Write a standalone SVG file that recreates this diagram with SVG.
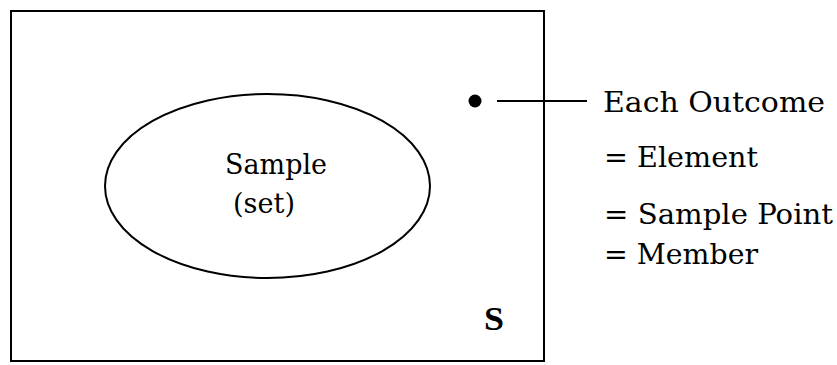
<svg xmlns="http://www.w3.org/2000/svg" width="837" height="365" viewBox="0 0 837 365">
<style>
.t{font-family:"DejaVu Serif","Liberation Serif",serif;font-size:28px;fill:#000}
.b{font-family:"Liberation Serif","DejaVu Serif",serif;font-size:34px;font-weight:bold;fill:#000}
.s{fill:none;stroke:#000;stroke-width:2}
</style>
<rect width="837" height="365" fill="#fff"/>
<g id="space">
<rect class="s" x="11" y="11" width="533" height="350"/>
<text class="b" x="484" y="330" textLength="20" lengthAdjust="spacingAndGlyphs">S</text>
</g>
<g id="sample">
<ellipse class="s" cx="267.5" cy="186" rx="162.5" ry="92" stroke-width="1.6"/>
<text class="t" x="225" y="174" textLength="102" lengthAdjust="spacingAndGlyphs">Sample</text>
<text class="t" x="233" y="213" textLength="62" lengthAdjust="spacingAndGlyphs">(set)</text>
</g>
<g id="outcome">
<circle cx="475" cy="101" r="6.5" fill="#000"/>
</g>
<g id="label">
<text class="t" x="603" y="112" textLength="222" lengthAdjust="spacingAndGlyphs">Each Outcome</text>
<text class="t" x="604" y="167" textLength="154" lengthAdjust="spacingAndGlyphs">= Element</text>
<text class="t" x="604" y="224" textLength="229" lengthAdjust="spacingAndGlyphs">= Sample Point</text>
<text class="t" x="604" y="264" textLength="154" lengthAdjust="spacingAndGlyphs">= Member</text>
</g>
<g id="connectors">
<line class="s" x1="497" y1="101" x2="587" y2="101"/>
</g>
</svg>
